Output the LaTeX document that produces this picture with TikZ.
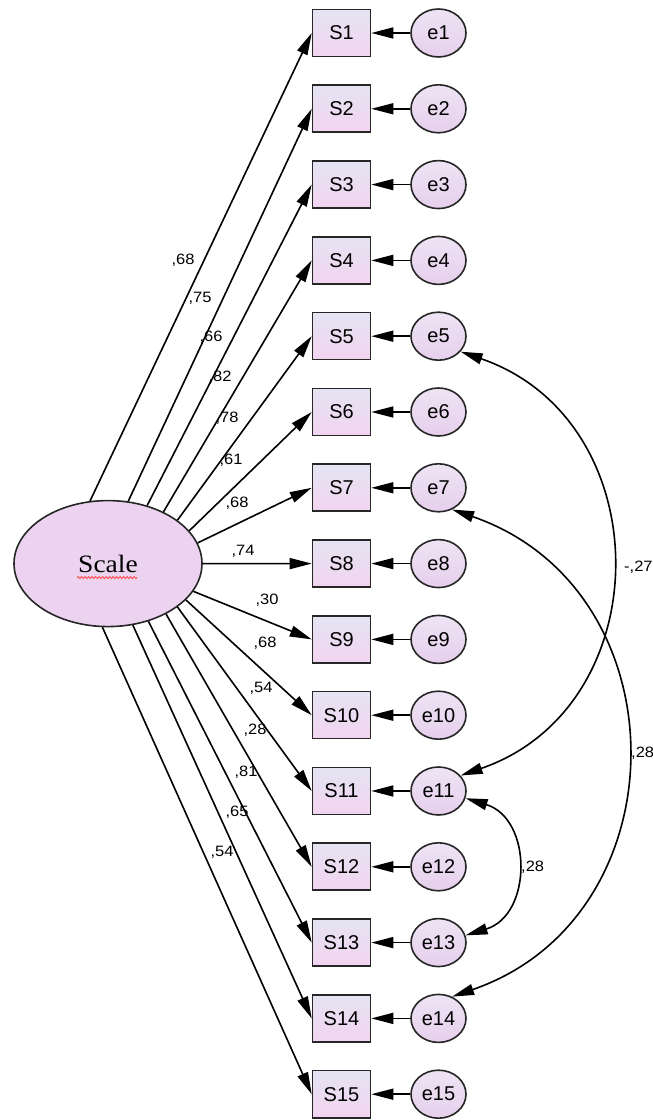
\documentclass[tikz,border=0pt]{standalone}
\usepackage{fontspec}
\setmainfont{Liberation Sans}
\newfontfamily\latentface{Liberation Serif}
\usetikzlibrary{arrows.meta,shapes.geometric,decorations.pathmorphing,calc}

% slightly widened text for the estimates
\newcommand{\wtxt}[1]{\scalebox{1.1}[1]{#1}}

\definecolor{latfill}{HTML}{ECD4F0}
\definecolor{boxtop}{HTML}{E4E4F2}
\definecolor{boxbot}{HTML}{F2D4F0}
\definecolor{errtop}{HTML}{EEE4F4}
\definecolor{errbot}{HTML}{E6CFEC}

\begin{document}
\begin{tikzpicture}[x=1pt,y=1pt,
  obs/.style={rectangle, draw=black!85, line width=1.6pt,
    minimum width=58pt, minimum height=47pt, inner sep=0pt,
    top color=boxtop, bottom color=boxbot,
    font=\fontsize{20}{20}\selectfont},
  err/.style={ellipse, draw=black!85, line width=1.6pt,
    minimum width=55pt, minimum height=48pt, inner sep=0pt,
    top color=errtop, bottom color=errbot,
    font=\fontsize{20}{20}\selectfont},
  lat/.style={ellipse, draw=black!85, line width=1.6pt,
    minimum width=188pt, minimum height=126pt, inner sep=0pt,
    fill=latfill},
  regpath/.style={line width=1.6pt, -{Triangle[length=22pt,width=11pt]}},
  covpath/.style={line width=1.6pt,
    {Triangle[length=22pt,width=11pt]}-{Triangle[length=22pt,width=11pt]}},
  coef/.style={inner sep=0pt, font=\fontsize{15}{15}\selectfont}
]
\useasboundingbox (0,0) rectangle (653,1120);

% latent factor
\node[lat] (Scale) at (108,556.4)
  {\latentface\fontsize{25}{25}\selectfont\scalebox{1.1}[1]{Scale}};
\draw[red!75, line width=0.8pt, decorate,
  decoration={snake, amplitude=1pt, segment length=3.5pt}]
  ($(Scale)+(-31,-14)$) -- ($(Scale)+(29,-14)$);

% items and their error terms
\foreach \k in {1,...,15} {
  \pgfmathsetmacro\yy{1087-75.8*(\k-1)}
  \node[obs] (S\k) at (341.5,\yy) {S\k};
  \node[err] (e\k) at (438.5,\yy) {e\k};
  \draw[regpath] (e\k) -- (S\k);
}

% loadings
\foreach \k/\a in {1/106,2/72,3/56,4/43,5/32,6/22,7/13,8/0,
                   9/-18.5,10/-25,11/-32,12/-41,13/-55,14/-68.5,15/-95} {
  \draw[regpath] (Scale.\a) -- (S\k.west);
}

% loading estimates
\foreach \k/\x/\y/\t in {1/183/860/{,68},2/200/822/{,75},3/211/783/{,66},
    4/220/743/{,82},5/227/702/{,78},6/231/660/{,61},7/237/617/{,68},
    8/243/569/{,74},9/267/520/{,30},10/265/477/{,68},11/261/432/{,54},
    12/255/390/{,28},13/246/348/{,81},14/237/308/{,65},15/222/268/{,54}} {
  \node[coef] (c\k) at (\x,\y) {\wtxt{\t}};
}

% error covariances (near-circular arcs)
\draw[covpath] (e5.-35) to[out=-19,in=19,looseness=1.28] (e11.35);
\draw[covpath] (e7.-58) to[out=-19,in=19,looseness=1.29] (e14.58);
\draw[covpath] (e11.-15) to[out=-17,in=17,looseness=1.31] (e13.15);

\node[coef, anchor=west] (r1) at (624,553) {\wtxt{-,27}};
\node[coef, anchor=west] (r2) at (631,367) {\wtxt{,28}};
\node[coef, anchor=west] (r3) at (521,253) {\wtxt{,28}};
\end{tikzpicture}
\end{document}
